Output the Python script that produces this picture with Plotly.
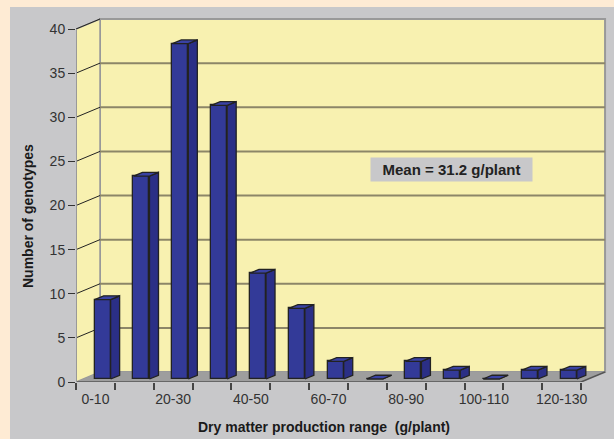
import plotly.graph_objects as go

# Histogram of dry matter production per plant across genotypes
categories = ["0-10", "10-20", "20-30", "30-40", "40-50", "50-60", "60-70",
              "70-80", "80-90", "90-100", "100-110", "110-120", "120-130"]
counts = [9, 23, 38, 31, 12, 8, 2, 0, 2, 1, 0, 1, 1]
y_ticks = [0, 5, 10, 15, 20, 25, 30, 35, 40]
mean_label = "Mean = 31.2 g/plant"

# ---- geometry of the pseudo-3D frame -----------------------------------
W, H = 614, 439
ML, MR, MT, MB = 76, 6, 12, 57
PW, PH = W - ML - MR, H - MT - MB
PX_PER_CAT = 38.85
PX_PER_UNIT = 8.825
XMAX = -0.5 + PW / PX_PER_CAT
YMAX = PH / PX_PER_UNIT

DX = 24 / PX_PER_CAT        # depth offset (category units)
DY = 10 / PX_PER_UNIT       # depth offset (value units)
F0, F1 = 0.30, 0.675        # front / back depth of the columns
BW = 0.412                  # column width
YTOP = y_ticks[-1]
n = len(categories)
XL, XR = -0.5, n - 0.5


def px_x(p):
    return (p - ML) / PW


def px_y(p):
    return 1 - (p - MT) / PH


PEACH = "#FEEBD4"
PANEL = "#C8C8CA"
WALL = "#F8F1B0"
FLOOR = "#9E9E9E"
GRID = "#8C8668"
EDGE = "#999999"
DARK = "#222222"
FRONT = "#333A98"
SIDE = "#2B2F86"
TOP = "#3A42A4"
FONT = "Liberation Sans, Arial, sans-serif"

shapes = [
    # grey panel behind the chart
    dict(type="rect", xref="paper", yref="paper", layer="below",
         x0=px_x(10), x1=px_x(W + 5), y0=px_y(7), y1=px_y(H + 5),
         fillcolor=PANEL, line=dict(width=0)),
    # back wall
    dict(type="rect", xref="x", yref="y", layer="below",
         x0=XL + DX, x1=XR + DX, y0=DY, y1=YTOP + DY,
         fillcolor=WALL, line=dict(color=EDGE, width=2)),
    # left side wall
    dict(type="path", xref="x", yref="y", layer="below",
         path=f"M{XL},0 L{XL},{YTOP} L{XL+DX},{YTOP+DY} L{XL+DX},{DY} Z",
         fillcolor=WALL, line=dict(color=EDGE, width=1.5)),
    # floor
    dict(type="path", xref="x", yref="y", layer="below",
         path=f"M{XL},0 L{XR},0 L{XR+DX},{DY} L{XL+DX},{DY} Z",
         fillcolor=FLOOR, line=dict(width=0)),
]

# grid lines on the back wall and the matching diagonals on the side wall
for t in y_ticks[1:-1]:
    shapes.append(dict(type="line", xref="x", yref="y", layer="below",
                       x0=XL + DX, x1=XR + DX, y0=t + DY, y1=t + DY,
                       line=dict(color=GRID, width=2)))
for t in y_ticks[1:]:
    shapes.append(dict(type="line", xref="x", yref="y", layer="below",
                       x0=XL, x1=XL + DX, y0=t, y1=t + DY,
                       line=dict(color=DARK, width=1)))
# floor edges and axis lines
shapes += [
    dict(type="line", xref="x", yref="y", layer="below",
         x0=XR, x1=XR + DX, y0=0, y1=DY, line=dict(color="#555555", width=1.5)),
    dict(type="line", xref="x", yref="y", layer="below",
         x0=XL, x1=XR, y0=0, y1=0, line=dict(color="#555555", width=1.5)),
    dict(type="line", xref="x", yref="y", layer="below",
         x0=XL, x1=XL, y0=0, y1=YTOP, line=dict(color=EDGE, width=2)),
]

# ---- columns --------------------------------------------------------------
xs = [i + F0 * DX for i in range(n)]
fig = go.Figure()
fig.add_trace(go.Bar(
    x=xs, y=counts, base=F0 * DY, width=BW,
    marker=dict(color=FRONT, line=dict(color=DARK, width=1.3)),
    hoverinfo="skip", showlegend=False,
))

ddx, ddy = (F1 - F0) * DX, (F1 - F0) * DY
side_x, side_y, top_x, top_y = [], [], [], []
for x, v in zip(xs, counts):
    xl, xr = x - BW / 2, x + BW / 2
    y0, y1 = F0 * DY, v + F0 * DY
    side_x += [xr, xr, xr + ddx, xr + ddx, xr, None]
    side_y += [y0, y1, y1 + ddy, y0 + ddy, y0, None]
    top_x += [xl, xr, xr + ddx, xl + ddx, xl, None]
    top_y += [y1, y1, y1 + ddy, y1 + ddy, y1, None]

for px, py, col in ((side_x, side_y, SIDE), (top_x, top_y, TOP)):
    fig.add_trace(go.Scatter(
        x=px, y=py, mode="lines", fill="toself", fillcolor=col,
        line=dict(color=DARK, width=1.3), hoverinfo="skip", showlegend=False,
    ))

# ---- axes -------------------------------------------------------------------
tick_font = dict(family=FONT, size=14, color="#333333")
fig.update_xaxes(
    range=[XL, XMAX], showgrid=False, zeroline=False, showline=False,
    tickmode="array", tickvals=list(range(n)),
    ticktext=[c if i % 2 == 0 else "" for i, c in enumerate(categories)],
    ticks="outside", ticklen=4, tickcolor="rgba(0,0,0,0)", tickfont=tick_font,
    minor=dict(tickmode="array", tickvals=[i - 0.5 for i in range(n + 1)],
               ticks="outside", ticklen=7, tickcolor="#444444", tickwidth=1.5,
               showgrid=False),
)
fig.update_yaxes(
    range=[0, YMAX], showgrid=False, zeroline=False, showline=False,
    tickmode="array", tickvals=y_ticks, ticks="outside", ticklen=7,
    tickcolor="#333333", tickwidth=1.3, tickfont=tick_font,
)

title_font = dict(family=FONT, size=14, color="#1a1a1a")
annotations = [
    dict(xref="paper", yref="paper", x=px_x(28), y=px_y(216), showarrow=False,
         xanchor="center", yanchor="middle",
         text="<b>Number of genotypes</b>", textangle=-90, font=title_font),
    dict(xref="paper", yref="paper", x=px_x(324), y=px_y(427), showarrow=False,
         xanchor="center", yanchor="middle",
         text="<b>Dry matter production range  (g/plant)</b>", font=title_font),
    dict(xref="paper", yref="paper", x=px_x(451.5), y=px_y(169.5), showarrow=False,
         xanchor="center", yanchor="middle",
         text=f"<b>{mean_label}</b>", font=dict(family=FONT, size=15, color="#222222"),
         bgcolor=PANEL, width=159, height=21, borderpad=1),
]

fig.update_layout(
    width=W, height=H, margin=dict(l=ML, r=MR, t=MT, b=MB),
    paper_bgcolor=PEACH, plot_bgcolor="rgba(0,0,0,0)",
    shapes=shapes, annotations=annotations, bargap=0,
)

fig.write_html("out.html")
